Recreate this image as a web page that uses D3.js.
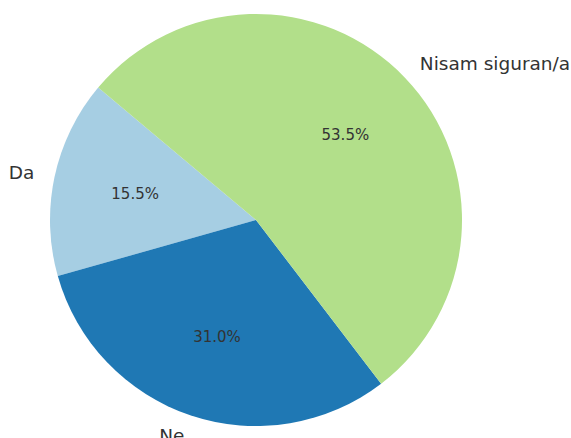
<!DOCTYPE html>
<html>
<head>
<meta charset="utf-8">
<script src="https://cdn.jsdelivr.net/npm/d3@7"></script>
<style>
  body { margin: 0; background: #fff; }
  svg text { font-family: "DejaVu Sans", sans-serif; fill: #333; }
</style>
</head>
<body>
<svg id="chart" width="571" height="438"></svg>
<script>
  var labels = ["Da", "Ne", "Nisam siguran/a"];
  var values = [15.5, 31.0, 53.5];
  var colors = ["#a6cee3", "#1f78b4", "#b2df8a"];

  var svg = d3.select("#chart");
  var cx = 256, cy = 220, r = 206;
  var startDeg = 140; // counterclockwise from 3 o'clock

  var g = svg.append("g").attr("transform", "translate(" + cx + "," + cy + ")");

  var start = (90 - startDeg) * Math.PI / 180;
  var pie = d3.pie().sort(null).value(function(d) { return d; })
    .startAngle(start).endAngle(start - 2 * Math.PI);
  var arcs = pie(values);

  var arc = d3.arc().innerRadius(0).outerRadius(r);
  var pctArc = d3.arc().innerRadius(r * 0.6).outerRadius(r * 0.6);
  var lblArc = d3.arc().innerRadius(r * 1.1).outerRadius(r * 1.1);

  g.selectAll("path.slice").data(arcs).enter().append("path")
    .attr("class", "slice")
    .attr("d", arc)
    .attr("fill", function(d, i) { return colors[i]; });

  g.selectAll("text.pct").data(arcs).enter().append("text")
    .attr("class", "pct")
    .attr("transform", function(d) { return "translate(" + pctArc.centroid(d) + ")"; })
    .attr("text-anchor", "middle")
    .attr("dominant-baseline", "central")
    .style("font-size", "15px")
    .text(function(d) { return d.value.toFixed(1) + "%"; });

  g.selectAll("text.lbl").data(arcs).enter().append("text")
    .attr("class", "lbl")
    .attr("transform", function(d) { return "translate(" + lblArc.centroid(d) + ")"; })
    .attr("text-anchor", function(d) { return lblArc.centroid(d)[0] > 0 ? "start" : "end"; })
    .attr("dominant-baseline", "central")
    .style("font-size", "18.5px")
    .text(function(d, i) { return labels[i]; });
</script>
</body>
</html>
